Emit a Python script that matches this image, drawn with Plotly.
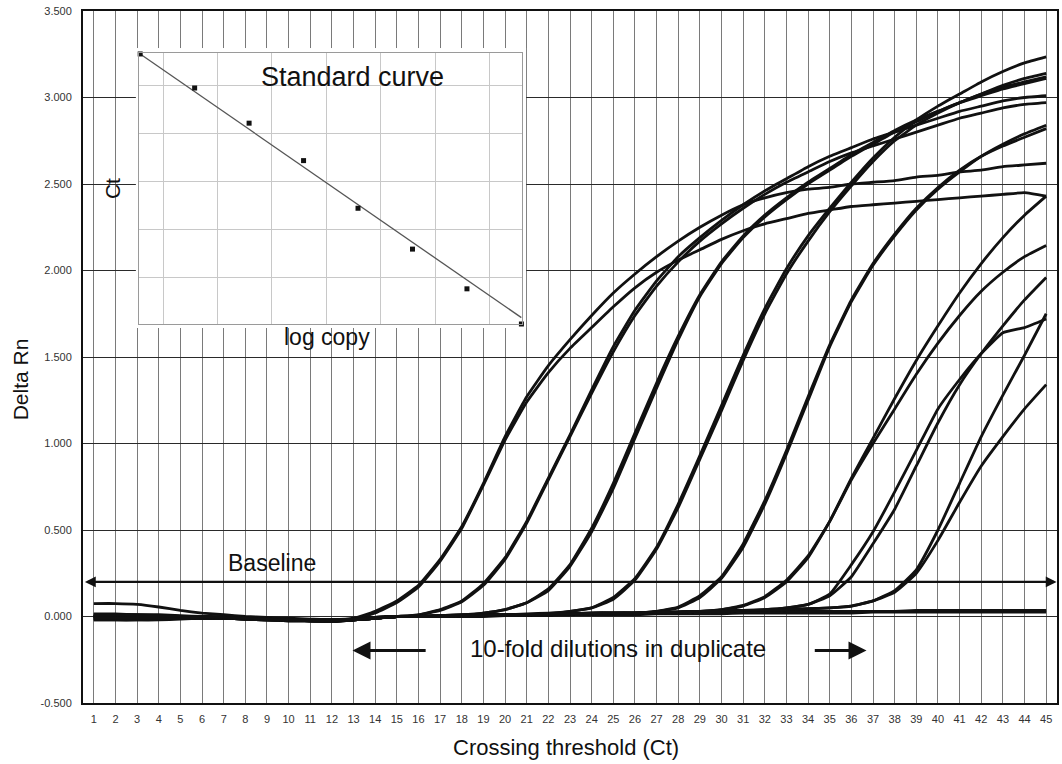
import plotly.graph_objects as go

# ---------------- data ----------------
CYCLES = list(range(1, 46))

# pair 1 (earliest dilution)
A1 = [0.00, 0.00, 0.00, 0.00, -0.005, -0.01, -0.01, -0.015, -0.02, -0.02, -0.02, -0.02, -0.01,
      0.03, 0.09, 0.18, 0.33, 0.52, 0.77, 1.04, 1.27, 1.45, 1.60,
      1.74, 1.87, 1.98, 2.08, 2.17, 2.25, 2.32, 2.38, 2.42, 2.45,
      2.47, 2.48, 2.50, 2.51, 2.52, 2.54, 2.55, 2.57, 2.58, 2.60,
      2.61, 2.62]
A2 = [-0.02, -0.02, -0.02, -0.015, -0.01, -0.005, 0.00, -0.005, -0.01, -0.015, -0.02, -0.025, -0.015,
      0.02, 0.08, 0.17, 0.32, 0.51, 0.76, 1.02, 1.24, 1.41, 1.55,
      1.67, 1.79, 1.90, 1.99, 2.06, 2.12, 2.18, 2.23, 2.27, 2.30,
      2.33, 2.35, 2.37, 2.38, 2.39, 2.40, 2.41, 2.42, 2.43, 2.44,
      2.45, 2.43]
# pair 2
B1 = [0.015, 0.015, 0.01, 0.01, 0.005, 0.00, -0.005, -0.01, -0.015, -0.02, -0.025, -0.025, -0.02,
      -0.01, 0.00, 0.01, 0.04, 0.09, 0.19, 0.34, 0.55, 0.80, 1.05,
      1.31, 1.56, 1.77, 1.94, 2.08, 2.19, 2.29, 2.38, 2.46, 2.53,
      2.60, 2.66, 2.71, 2.76, 2.80, 2.84, 2.88, 2.92, 2.95, 2.98,
      3.00, 3.01]
B2 = [0.00, 0.00, 0.00, -0.005, -0.005, -0.01, -0.01, -0.015, -0.02, -0.025, -0.025, -0.03, -0.02,
      -0.01, 0.00, 0.01, 0.035, 0.085, 0.18, 0.33, 0.54, 0.79, 1.04,
      1.29, 1.53, 1.74, 1.91, 2.05, 2.17, 2.27, 2.36, 2.44, 2.51,
      2.57, 2.63, 2.68, 2.72, 2.76, 2.80, 2.84, 2.88, 2.91, 2.94,
      2.96, 2.97]
# pair 3
C1 = [0.00, 0.00, 0.00, 0.00, 0.00, -0.005, -0.01, -0.01, -0.015, -0.02, -0.02, -0.02, -0.015,
      -0.005, 0.00, 0.00, 0.005, 0.01, 0.02, 0.04, 0.08, 0.15, 0.29,
      0.49, 0.74, 1.03, 1.32, 1.60, 1.85, 2.04, 2.19, 2.31, 2.41,
      2.50, 2.58, 2.66, 2.73, 2.80, 2.86, 2.92, 2.97, 3.02, 3.06,
      3.09, 3.12]
C2 = [-0.01, -0.01, -0.01, -0.01, -0.01, -0.01, -0.01, -0.015, -0.02, -0.02, -0.025, -0.025, -0.02,
      -0.01, 0.00, 0.00, 0.005, 0.01, 0.02, 0.04, 0.08, 0.16, 0.30,
      0.51, 0.77, 1.06, 1.35, 1.62, 1.86, 2.05, 2.20, 2.32, 2.42,
      2.51, 2.59, 2.67, 2.74, 2.81, 2.87, 2.92, 2.97, 3.01, 3.05,
      3.08, 3.11]
# pair 4
D1 = [0.005, 0.005, 0.00, 0.00, 0.00, -0.005, -0.01, -0.01, -0.015, -0.02, -0.02, -0.02, -0.015,
      -0.005, 0.00, 0.00, 0.005, 0.005, 0.01, 0.01, 0.015, 0.02, 0.03,
      0.05, 0.11, 0.22, 0.40, 0.65, 0.93, 1.22, 1.51, 1.78, 2.01,
      2.20, 2.36, 2.51, 2.65, 2.77, 2.87, 2.95, 3.02, 3.09, 3.15,
      3.20, 3.235]
D2 = [-0.015, -0.015, -0.015, -0.01, -0.01, -0.01, -0.01, -0.015, -0.02, -0.025, -0.025, -0.025, -0.02,
      -0.01, 0.00, 0.00, 0.00, 0.005, 0.005, 0.01, 0.01, 0.015, 0.03,
      0.05, 0.10, 0.21, 0.39, 0.63, 0.91, 1.19, 1.48, 1.75, 1.98,
      2.17, 2.34, 2.49, 2.63, 2.75, 2.84, 2.91, 2.97, 3.02, 3.07,
      3.11, 3.14]
# pair 5
E1 = [0.00, 0.00, 0.00, 0.00, -0.005, -0.005, -0.01, -0.01, -0.015, -0.015, -0.02, -0.02, -0.015,
      -0.005, 0.00, 0.00, 0.00, 0.005, 0.005, 0.01, 0.01, 0.01, 0.015,
      0.015, 0.02, 0.02, 0.03, 0.05, 0.11, 0.22, 0.40, 0.65, 0.94,
      1.25, 1.56, 1.82, 2.03, 2.20, 2.35, 2.47, 2.57, 2.66, 2.73,
      2.79, 2.84]
E2 = [-0.02, -0.02, -0.02, -0.02, -0.015, -0.01, -0.01, -0.01, -0.015, -0.02, -0.025, -0.03, -0.02,
      -0.01, 0.00, 0.00, 0.00, 0.00, 0.005, 0.005, 0.01, 0.01, 0.01,
      0.015, 0.02, 0.02, 0.03, 0.055, 0.12, 0.23, 0.42, 0.67, 0.96,
      1.27, 1.57, 1.83, 2.04, 2.21, 2.36, 2.48, 2.58, 2.66, 2.72,
      2.77, 2.82]
# pair 6
F1 = [0.01, 0.01, 0.01, 0.005, 0.00, 0.00, -0.005, -0.01, -0.015, -0.02, -0.02, -0.025, -0.02,
      -0.01, 0.00, 0.00, 0.005, 0.005, 0.01, 0.01, 0.01, 0.015, 0.015,
      0.015, 0.02, 0.02, 0.02, 0.025, 0.03, 0.04, 0.06, 0.11, 0.20,
      0.34, 0.55, 0.80, 1.03, 1.26, 1.48, 1.68, 1.87, 2.04, 2.19,
      2.32, 2.43]
F2 = [-0.005, -0.005, -0.005, -0.005, -0.005, -0.01, -0.01, -0.015, -0.02, -0.02, -0.025, -0.025, -0.02,
      -0.01, 0.00, 0.00, 0.00, 0.005, 0.005, 0.01, 0.01, 0.01, 0.015,
      0.015, 0.02, 0.02, 0.02, 0.025, 0.03, 0.04, 0.065, 0.115, 0.21,
      0.35, 0.55, 0.79, 1.00, 1.20, 1.40, 1.58, 1.74, 1.88, 1.99,
      2.08, 2.145]
# pair 7
G1 = [0.075, 0.075, 0.07, 0.055, 0.035, 0.02, 0.01, 0.00, -0.005, -0.01, -0.015, -0.02, -0.015,
      -0.005, 0.00, 0.00, 0.005, 0.005, 0.01, 0.01, 0.01, 0.015, 0.015,
      0.02, 0.02, 0.02, 0.025, 0.025, 0.03, 0.03, 0.035, 0.04, 0.05,
      0.07, 0.13, 0.30, 0.49, 0.72, 0.96, 1.20, 1.37, 1.52, 1.64,
      1.67, 1.72]
G2 = [0.00, 0.00, 0.00, 0.00, 0.00, 0.00, -0.005, -0.01, -0.015, -0.02, -0.02, -0.02, -0.015,
      -0.005, 0.00, 0.00, 0.005, 0.005, 0.01, 0.01, 0.01, 0.015, 0.015,
      0.02, 0.02, 0.02, 0.025, 0.025, 0.03, 0.03, 0.035, 0.04, 0.05,
      0.07, 0.12, 0.23, 0.42, 0.62, 0.87, 1.12, 1.34, 1.52, 1.68,
      1.83, 1.96]
# pair 8 (latest dilution)
H1 = [-0.01, -0.01, -0.01, -0.01, -0.01, -0.005, -0.005, -0.01, -0.015, -0.02, -0.025, -0.025, -0.02,
      -0.01, 0.00, 0.00, 0.00, 0.005, 0.005, 0.01, 0.01, 0.015, 0.015,
      0.02, 0.02, 0.02, 0.025, 0.025, 0.03, 0.03, 0.035, 0.035, 0.04,
      0.045, 0.05, 0.06, 0.09, 0.15, 0.27, 0.50, 0.77, 1.04, 1.28,
      1.51, 1.75]
H2 = [0.01, 0.01, 0.005, 0.005, 0.00, 0.00, -0.005, -0.01, -0.015, -0.02, -0.02, -0.02, -0.015,
      -0.01, 0.00, 0.00, 0.00, 0.005, 0.005, 0.01, 0.01, 0.015, 0.015,
      0.02, 0.02, 0.02, 0.025, 0.025, 0.03, 0.03, 0.035, 0.035, 0.04,
      0.045, 0.05, 0.06, 0.09, 0.14, 0.25, 0.44, 0.66, 0.87, 1.04,
      1.20, 1.34]
# no-template controls
N1 = [-0.01, -0.01, -0.01, -0.01, -0.01, -0.01, -0.01, -0.015, -0.02, -0.025, -0.025, -0.03, -0.02,
      -0.01, 0.00, 0.00, 0.00, 0.00, 0.00, 0.005, 0.005, 0.005, 0.01,
      0.01, 0.01, 0.01, 0.015, 0.015, 0.015, 0.015, 0.02, 0.02, 0.02,
      0.02, 0.02, 0.02, 0.025, 0.025, 0.025, 0.025, 0.025, 0.025, 0.025,
      0.025, 0.025]
N2 = [0.00, 0.00, 0.00, 0.00, 0.00, -0.005, -0.01, -0.01, -0.015, -0.02, -0.02, -0.025, -0.02,
      -0.01, 0.00, 0.00, 0.005, 0.005, 0.005, 0.01, 0.01, 0.01, 0.015,
      0.015, 0.015, 0.02, 0.02, 0.02, 0.02, 0.025, 0.025, 0.025, 0.03,
      0.03, 0.03, 0.03, 0.03, 0.03, 0.035, 0.035, 0.035, 0.035, 0.035,
      0.035, 0.035]

CURVES = [N1, N2, A1, A2, B1, B2, C1, C2, D1, D2, E1, E2, F1, F2, G1, G2, H1, H2]
for c in CURVES:
    assert len(c) == len(CYCLES)

BASELINE_THRESHOLD = 0.2

# standard curve inset
LOG_COPY = [1, 2, 3, 4, 5, 6, 7, 8]
CT_VALUES = [38.9, 35.9, 32.8, 29.5, 25.3, 21.7, 18.2, 15.1]
FIT_SLOPE = -3.32
FIT_INTERCEPT = 42.22

Y_TICKS = [-0.5, 0.0, 0.5, 1.0, 1.5, 2.0, 2.5, 3.0, 3.5]

# ---------------- figure ----------------
FONT = "Arial, Liberation Sans, sans-serif"
fig = go.Figure()

for ys in CURVES:
    fig.add_trace(go.Scatter(
        x=CYCLES, y=ys, mode="lines",
        line=dict(color="#111111", width=2.8, shape="spline", smoothing=0.4),
        showlegend=False, hoverinfo="skip"))

# white pad behind the inset
fig.add_trace(go.Scatter(x=[], y=[], xaxis="x2", yaxis="y2", showlegend=False, hoverinfo="skip"))

# inset: fit line + points
fit_x = [LOG_COPY[0], LOG_COPY[-1]]
fit_y = [FIT_INTERCEPT + FIT_SLOPE * v for v in fit_x]
fig.add_trace(go.Scatter(x=fit_x, y=fit_y, mode="lines", xaxis="x3", yaxis="y3",
                         line=dict(color="#555555", width=1.3), showlegend=False,
                         hoverinfo="skip", cliponaxis=False))
fig.add_trace(go.Scatter(x=LOG_COPY, y=CT_VALUES, mode="markers", xaxis="x3", yaxis="y3",
                         marker=dict(symbol="square", size=5, color="#111111"),
                         showlegend=False, hoverinfo="skip", cliponaxis=False))

fig.update_layout(
    width=1062, height=764,
    margin=dict(l=83, r=3, t=11, b=61),
    paper_bgcolor="white", plot_bgcolor="white",
    font=dict(family=FONT, color="#111"),
    xaxis=dict(range=[0.5, 45.5], tickmode="array", tickvals=CYCLES,
               ticktext=[str(c) for c in CYCLES],
               showgrid=True, gridcolor="#7a7a7a", gridwidth=1.4,
               showline=True, linecolor="#111", linewidth=2, mirror=True,
               zeroline=False, ticks="", ticklabelstandoff=5,
               tickfont=dict(size=11, color="#333", family=FONT)),
    yaxis=dict(range=[-0.5, 3.5], tickmode="array", tickvals=Y_TICKS,
               ticktext=["%.3f" % v for v in Y_TICKS],
               showgrid=True, gridcolor="#2a2a2a", gridwidth=1.3,
               showline=True, linecolor="#111", linewidth=2, mirror=True,
               zeroline=False, ticks="", ticklabelstandoff=7,
               tickfont=dict(size=11, color="#333", family=FONT)),
    xaxis2=dict(domain=[0.0543, 0.4549], anchor="y2", range=[0, 1], visible=False),
    yaxis2=dict(domain=[0.5419, 0.9465], anchor="x2", range=[0, 1], visible=False),
    xaxis3=dict(domain=[0.0577, 0.4505], anchor="y3", range=[0.982, 8.007],
                tickmode="linear", tick0=1.42, dtick=1, showticklabels=False, ticks="",
                showgrid=True, gridcolor="#c8c8c8", gridwidth=1, zeroline=False,
                showline=True, linecolor="#9a9a9a", linewidth=1, mirror=True),
    yaxis3=dict(domain=[0.5477, 0.9389], anchor="x3", range=[15.1, 38.96],
                tickmode="linear", tick0=19.19, dtick=4.235, showticklabels=False, ticks="",
                showgrid=True, gridcolor="#c8c8c8", gridwidth=1, zeroline=False,
                showline=True, linecolor="#9a9a9a", linewidth=1, mirror=True),
)

def label(text, x, y, size, ref="paper", angle=0):
    return dict(text=text, xref=ref, yref=ref.replace("x", "y"), x=x, y=y, textangle=angle,
                xanchor="center", yanchor="middle", showarrow=False,
                font=dict(size=size, color="#111", family=FONT))

ann = [
    label("Delta Rn", -0.0645, 0.468, 21, angle=-90),
    label("Crossing threshold (Ct)", 0.496, -0.0636, 22),
    label("Standard curve", 0.2763, 0.905, 27),
    label("log copy", 0.251, 0.529, 23),
    label("Ct", 0.0297, 0.744, 21, angle=-90),
    label("Baseline", 9.23, 0.312, 23, ref="x"),
    label("10-fold dilutions in duplicate", 25.23, -0.185, 24, ref="x"),
]
# baseline threshold double arrow
ann.append(dict(text="", x=45.48, y=BASELINE_THRESHOLD, ax=0.52, ay=BASELINE_THRESHOLD,
                xref="x", yref="y", axref="x", ayref="y", showarrow=True,
                arrowhead=2, arrowsize=0.9, arrowwidth=2.4, arrowcolor="#111",
                arrowside="end+start", standoff=0, startstandoff=0))
# dilution arrows
ann.append(dict(text="", x=12.95, y=-0.197, ax=16.4, ay=-0.197, xref="x", yref="y",
                axref="x", ayref="y", showarrow=True, arrowhead=2, arrowsize=1.2,
                arrowwidth=3, arrowcolor="#111", standoff=0))
ann.append(dict(text="", x=36.7, y=-0.197, ax=34.24, ay=-0.197, xref="x", yref="y",
                axref="x", ayref="y", showarrow=True, arrowhead=2, arrowsize=1.2,
                arrowwidth=3, arrowcolor="#111", standoff=0))
fig.update_layout(annotations=ann)

fig.write_html("out.html", config={"displayModeBar": False},
               post_script="document.body.style.margin='0px';")
